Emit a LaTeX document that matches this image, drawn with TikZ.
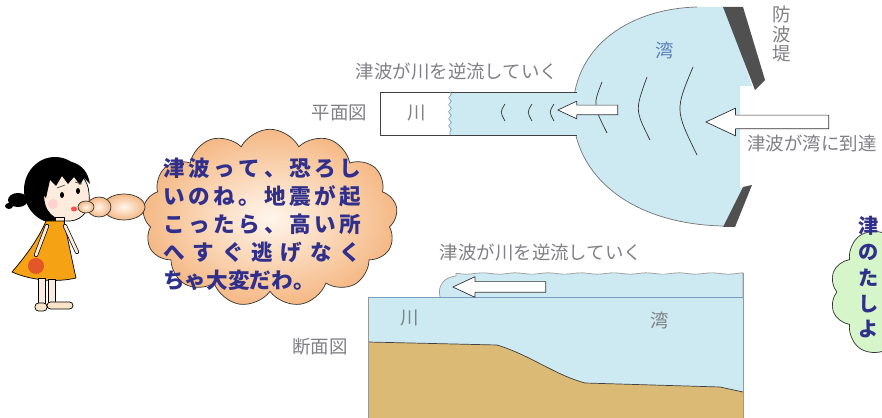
\documentclass[tikz,border=0pt]{standalone}
\usepackage{fontspec}
\usepackage{tikz}
\usetikzlibrary{shapes.symbols,shapes.arrows,decorations.pathmorphing,positioning}
\newfontfamily\jp{Noto Sans CJK JP}
\definecolor{water}{RGB}{205,234,243}
\definecolor{sand}{RGB}{218,186,116}
\definecolor{peach}{RGB}{245,184,132}
\definecolor{cloudin}{RGB}{255,246,236}
\definecolor{mint}{RGB}{214,245,200}
\definecolor{notegray}{RGB}{128,128,133}
\definecolor{baytext}{RGB}{88,130,180}
\definecolor{talkblue}{RGB}{48,48,140}
\definecolor{wallgray}{RGB}{80,80,80}
\definecolor{skin}{RGB}{253,236,222}
\definecolor{dress}{RGB}{245,162,20}
\definecolor{pocket}{RGB}{226,86,40}
\definecolor{shoe}{RGB}{250,228,200}
\definecolor{surface}{RGB}{120,160,190}

\begin{document}
\begin{tikzpicture}[x=0.02cm,y=-0.02cm,line join=round,thin]
	\tikzstyle{note}=[text=notegray,font=\jp\fontsize{10.5}{11.3}\selectfont,inner sep=0pt]
	\tikzstyle{talk}=[text=talkblue,font=\jp\bfseries\fontsize{12.3}{15.9}\selectfont,inner sep=0pt,align=left]
	\tikzstyle{hollow}=[single arrow,draw=black!80,fill=white,shape border rotate=180,
		single arrow tip angle=50,inner xsep=0pt,anchor=tip]
	\tikzstyle{bubble}=[cloud,cloud puffs=13,cloud puff arc=125,aspect=1.4,draw=black!80]

	\clip (0,0) rectangle (882,418);
	\fill[white] (0,0) rectangle (882,418);

	% plan view: bay
	\fill[water] (697,7) .. controls (625,9) and (572,50) .. (573,113)
		.. controls (574,175) and (630,224) .. (723,226) -- (730,226) -- (748,188)
		-- (740,188) -- (740,86) -- (752,86) -- (726,7) -- cycle;
	\draw[black!55] (697,7) .. controls (625,9) and (572,50) .. (573,113)
		.. controls (574,175) and (630,224) .. (723,226);
	% plan view: river
	\fill[water] (450,92) rectangle (580,135);
	\draw[black!75] (577,92) -- (380,92) -- (380,135) -- (577,135);
	\draw[surface,decorate,decoration={snake,amplitude=0.8pt,segment length=4pt}] (450,92) -- (450,135);
	\foreach \wx in {503,530,552}
		\draw[black!80] (\wx+2,104) .. controls (\wx-3,112) .. (\wx+2,121);
	% waves in the bay
	\draw[black!80] (602,82) .. controls (593,105) .. (607,133);
	\draw[black!80] (647,77) .. controls (635,110) .. (650,140);
	\draw[black!80] (693,67) .. controls (675,110) .. (697,155);
	% breakwaters
	\fill[wallgray] (723,7) -- (743,7) -- (765,80) -- (755,90) -- cycle;
	\fill[wallgray] (743,187) -- (752,185) -- (735,227) -- (723,227) -- cycle;

	\node[hollow,minimum height=1.2cm,inner ysep=0.09cm,single arrow head extend=0.08cm] (flowP) at (557,110) {};
	\node[hollow,minimum height=2.46cm,inner ysep=0.13cm,single arrow head extend=0.14cm] (surge) at (705,122) {};

	\node[note] (riverP) at (417,113) {川};
	\node[note] (planlbl) [left=0.8cm of riverP] {平面図};
	\node[note] (upriverP) at (457,72) {津波が川を逆流していく};
	\node[note,text=baytext] (bayP) at (665,50) {湾};
	\node[note,align=center] (wall) at (782,34) {防\\波\\堤};
	\node[note,anchor=west] (reach) at (747,143) {津波が湾に到達};

	% section view
	\fill[water] (368,297) rectangle (743,418);
	\filldraw[fill=water,draw=black!40] (440,297) .. controls (437,285) and (445,277) .. (456,276)
		-- plot[domain=456:743,samples=60] (\x,{273.5+0.7*sin(\x*11)}) -- (743,297);
	\fill[sand] (368,342) -- (497,345) .. controls (530,355) and (555,375) .. (585,383)
		-- (720,387) -- (743,392) -- (743,418) -- (368,418) -- cycle;
	\draw[black!75] (368,342) -- (497,345) .. controls (530,355) and (555,375) .. (585,383)
		-- (720,387) -- (743,392);
	\draw[surface] (368,297) -- (743,297);
	\draw[black!40] (368,297) -- (368,418) (743,273) -- (743,418);

	\node[hollow,minimum height=1.86cm,inner ysep=0.1cm,single arrow head extend=0.1cm] (flowS) at (452,287) {};

	\node[note] (upriverS) at (541,253) {津波が川を逆流していく};
	\node[note] (riverS) at (410,318) {川};
	\node[note] (bayS) at (660,320) {湾};
	\node[note] (cutlbl) at (320,347) {断面図};

	% thought clouds
	\node[bubble,inner color=cloudin,outer color=peach,minimum width=5.1cm,minimum height=3.55cm] (think) at (270,218) {};
	\node[bubble,cloud puffs=14,aspect=1.2,fill=mint,minimum width=5.4cm,minimum height=3.6cm] (thinkR) at (965,292) {};
	\node[talk,anchor=north west] (words) at (163,158) {%
		\makebox[3.96cm][s]{津\hfill 波\hfill っ\hfill て\hfill 、\hfill 恐\hfill ろ\hfill し}\\
		\makebox[3.96cm][s]{い\hfill の\hfill ね\hfill 。\hfill 地\hfill 震\hfill が\hfill 起}\\
		\makebox[3.96cm][s]{こ\hfill っ\hfill た\hfill ら\hfill 、\hfill 高\hfill い\hfill 所}\\
		\makebox[3.96cm][s]{へ\hfill す\hfill ぐ\hfill 逃\hfill げ\hfill な\hfill く}\\
		ちゃ大変だわ。};
	\node[talk,anchor=north west,font=\jp\bfseries\fontsize{11.5}{14.7}\selectfont] (wordsR) at (858,216) {津\\の\\た\\し\\よ};

	% girl
	\fill[black] (55,190) ellipse (31 and 33);
	\fill[black] (18,200) ellipse (10 and 7);
	\fill[black] (9,206) ellipse (4 and 3);
	\filldraw[fill=skin,draw=black] (44,192) .. controls (42,212) and (55,222) .. (70,221)
		.. controls (84,220) and (91,208) .. (89,193) .. controls (88,180) and (80,172) .. (70,170)
		.. controls (58,170) and (46,178) .. (44,192) -- cycle;
	\fill[black] (40,192) .. controls (42,168) and (58,158) .. (72,162) .. controls (82,165) and (88,172) .. (90,184)
		-- (84,178) -- (80,185) -- (74,177) -- (68,184) -- (62,176) -- (56,186) -- (50,180) -- (46,198) -- cycle;
	\draw[black!70] (57,188) -- (65,185) (75,182) -- (82,184);
	\fill[black] (62,195) ellipse (2 and 3) (78,191) ellipse (2 and 3);
	\fill[pink!70] (53,204) circle (5);
	\fill[red!70] (74,209) ellipse (3 and 2.5);
	\filldraw[fill=skin,draw=black] (55,217) rectangle (64,224);
	\filldraw[fill=dress,draw=black] (46,221) -- (64,221) .. controls (68,240) and (72,260) .. (76,278)
		.. controls (55,283) and (30,280) .. (12,272) .. controls (24,258) and (38,240) .. (46,221) -- cycle;
	\fill[pocket] (36,266) circle (8);
	\draw[black,double=skin,double distance=1.6pt,line cap=round] (47,226) -- (36,255) (65,226) -- (77,252);
	\filldraw[fill=skin,draw=black] (38,278) rectangle (45,304) (48,279) rectangle (55,304);
	\filldraw[fill=shoe,draw=black,rounded corners=2pt] (35,303) rectangle (47,311) (47,302) rectangle (73,309);
	% little puffs from her mouth
	\shadedraw[draw=black!80,inner color=cloudin,outer color=peach] (124,207) ellipse (21 and 13);
	\shadedraw[draw=black!80,inner color=cloudin,outer color=peach] (99,207) ellipse (12 and 10);
	\shadedraw[draw=black!80,inner color=cloudin,outer color=peach] (86,207) ellipse (8 and 6);
\end{tikzpicture}
\end{document}
